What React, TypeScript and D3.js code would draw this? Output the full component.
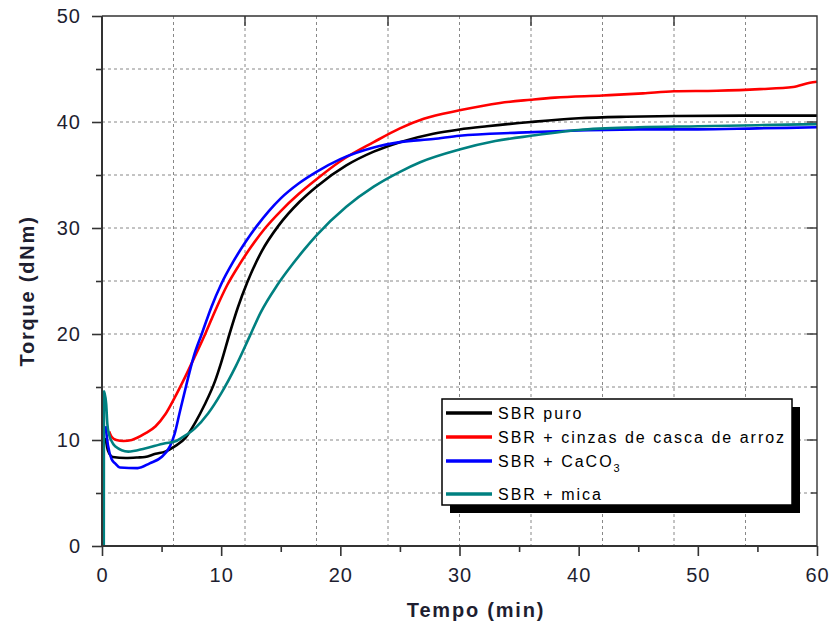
import React, { useEffect, useRef } from 'react';
import * as d3 from 'd3';

// torque curves: [tempo (min), torque (dNm)]
const sbrPuro: [number, number][] = [
  [0.3, 10.2], [0.5, 9.0], [0.9, 8.4], [2, 8.3], [3, 8.35], [3.6, 8.4], [4.5, 8.7],
  [5.3, 8.9], [6.1, 9.4], [7, 10.2], [7.8, 11.6], [8.6, 13.3], [9.5, 15.6], [10, 17.3],
  [10.7, 20], [11.4, 22.5], [12.2, 24.9], [13.4, 27.8], [14.8, 30.2], [16.6, 32.5],
  [18, 33.9], [20.5, 35.9], [22.8, 37.2], [25, 38.1], [27.8, 38.9], [30, 39.3],
  [32.3, 39.6], [36, 40], [40, 40.35], [44, 40.5], [48, 40.57], [54, 40.6], [60, 40.6],
];

const sbrCinzas: [number, number][] = [
  [0.6, 10.8], [0.8, 10.3], [1.2, 10], [1.8, 9.9], [2.5, 10], [3.6, 10.6], [4.5, 11.3],
  [5.3, 12.4], [6.1, 14], [7, 16], [7.8, 17.9], [8.7, 20.1], [9.5, 22.2], [10.5, 24.6],
  [11.5, 26.5], [12.5, 28.2], [13.7, 30], [15, 31.6], [16.5, 33.2], [18, 34.6],
  [20, 36.3], [22.8, 38.1], [25, 39.4], [27, 40.3], [30, 41.1], [33.4, 41.8], [36, 42.1],
  [38, 42.3], [42, 42.5], [45.4, 42.7], [48, 42.9], [51.6, 42.95], [55.2, 43.1],
  [58, 43.3], [59.4, 43.7], [60, 43.8],
];

const sbrCaco3: [number, number][] = [
  [0.3, 11.3], [0.5, 9.5], [0.8, 8.2], [1.1, 7.8], [1.5, 7.4], [3, 7.35], [4, 7.8],
  [5, 8.4], [5.7, 9.4], [6.1, 10.6], [6.5, 12.5], [7.1, 15.3], [7.7, 17.9], [8.4, 20.1],
  [9.2, 22.6], [10, 24.7], [11, 26.8], [12, 28.6], [13, 30.2], [14, 31.6], [15, 32.8],
  [16.5, 34.2], [18, 35.3], [20, 36.5], [22.8, 37.6], [25, 38.1], [27.8, 38.4],
  [30, 38.7], [35, 39], [40, 39.2], [45, 39.3], [50, 39.3], [55, 39.4], [60, 39.5],
];

const sbrMica: [number, number][] = [
  [0.15, 0], [0.17, 14.6], [0.35, 13.4], [0.45, 11.5], [0.6, 10.5], [0.8, 9.9],
  [1.1, 9.4], [2.2, 8.9], [3.6, 9.2], [5.3, 9.7], [6.1, 9.85], [6.8, 10.3], [7.8, 11.1],
  [8.9, 12.5], [10, 14.4], [11.2, 16.9], [12.4, 19.8], [13.3, 22], [14.7, 24.6],
  [16, 26.6], [17, 28], [18, 29.3], [20.5, 32], [22.8, 33.9], [25, 35.3], [26.7, 36.2],
  [30, 37.4], [33, 38.2], [36, 38.7], [40, 39.25], [45, 39.5], [50, 39.6], [55, 39.7],
  [60, 39.8],
];

const seriesNames = ['SBR puro', 'SBR + cinzas de casca de arroz', 'SBR + CaCO', 'SBR + mica'];
const seriesColors = ['#000000', '#ff0000', '#0000ff', '#008080'];
const seriesData = [sbrPuro, sbrCinzas, sbrCaco3, sbrMica];

const xTicks = [0, 10, 20, 30, 40, 50, 60];
const yTicks = [0, 10, 20, 30, 40, 50];

const App = () => {
  const svgRef = useRef<SVGSVGElement>(null);

  useEffect(() => {
    const svg = d3.select(svgRef.current);
    svg.selectAll('*').remove();

    const left = 102, right = 817, top = 16, bottom = 546;
    const x = d3.scaleLinear().domain([0, 60]).range([left, right]);
    const y = d3.scaleLinear().domain([0, 50]).range([bottom, top]);
    const font = '"Liberation Sans", Arial, sans-serif';
    const axisColor = '#333';

    // grid: verticals every 6 min, horizontals every 5 dNm
    const grid = svg.append('g').attr('stroke', '#888').attr('stroke-width', 1)
      .attr('stroke-dasharray', '3,3');
    grid.selectAll('line.v')
      .data(d3.range(6, 60, 6))
      .join('line')
        .attr('x1', d => x(d)).attr('x2', d => x(d))
        .attr('y1', top).attr('y2', bottom);
    grid.selectAll('line.h')
      .data(d3.range(5, 50, 5))
      .join('line')
        .attr('x1', left).attr('x2', right)
        .attr('y1', d => y(d)).attr('y2', d => y(d));

    // curves
    const line = d3.line<[number, number]>()
      .x(d => x(d[0]))
      .y(d => y(d[1]))
      .curve(d3.curveMonotoneX);

    svg.append('g')
      .selectAll('path')
      .data(seriesData)
      .join('path')
        .attr('fill', 'none')
        .attr('stroke', (d, i) => seriesColors[i])
        .attr('stroke-width', 2.6)
        .attr('stroke-linejoin', 'round')
        .attr('d', d => line(d));

    // bottom axis (major 10, minor 5)
    const xMinor = svg.append('g').attr('transform', `translate(0,${bottom})`)
      .call(d3.axisBottom(x).tickValues(d3.range(5, 60, 10)).tickSize(6).tickFormat(() => ''));
    xMinor.select('.domain').remove();
    const xMajor = svg.append('g').attr('transform', `translate(0,${bottom})`)
      .call(d3.axisBottom(x).tickValues(xTicks).tickSize(10).tickPadding(12));
    xMajor.select('.domain').remove();

    // left axis
    const yMinor = svg.append('g').attr('transform', `translate(${left},0)`)
      .call(d3.axisLeft(y).tickValues(d3.range(5, 50, 10)).tickSize(6).tickFormat(() => ''));
    yMinor.select('.domain').remove();
    const yMajor = svg.append('g').attr('transform', `translate(${left},0)`)
      .call(d3.axisLeft(y).tickValues(yTicks).tickSize(10).tickPadding(11));
    yMajor.select('.domain').remove();

    svg.selectAll('.tick line').attr('stroke', axisColor).attr('stroke-width', 1.6);
    svg.selectAll('.tick text')
      .attr('font-family', font)
      .attr('font-size', 20)
      .attr('letter-spacing', 1)
      .attr('fill', '#1e1e30');

    // top ticks (every 12 min) and right ticks, pointing inward
    svg.append('g')
      .selectAll('line')
      .data(d3.range(12, 60, 12))
      .join('line')
        .attr('x1', d => x(d)).attr('x2', d => x(d))
        .attr('y1', top).attr('y2', top + 10)
        .attr('stroke', axisColor).attr('stroke-width', 1.4);
    svg.append('g')
      .selectAll('line')
      .data(d3.range(5, 50, 5))
      .join('line')
        .attr('x1', right).attr('x2', d => right - (d % 10 === 0 ? 10 : 6))
        .attr('y1', d => y(d)).attr('y2', d => y(d))
        .attr('stroke', axisColor).attr('stroke-width', 1.4);

    // frame
    svg.append('path')
      .attr('d', `M${left},${top}H${right}V${bottom}`)
      .attr('fill', 'none').attr('stroke', axisColor).attr('stroke-width', 1.4);
    svg.append('path')
      .attr('d', `M${left},${top}V${bottom}H${right}`)
      .attr('fill', 'none').attr('stroke', axisColor).attr('stroke-width', 2);

    // axis titles
    svg.append('text')
      .attr('x', 476).attr('y', 617)
      .attr('text-anchor', 'middle')
      .attr('font-family', font).attr('font-size', 20).attr('font-weight', 'bold')
      .attr('letter-spacing', 1.8).attr('fill', '#1e1e30')
      .text('Tempo (min)');
    svg.append('text')
      .attr('transform', 'translate(34,291) rotate(-90)')
      .attr('text-anchor', 'middle')
      .attr('font-family', font).attr('font-size', 20).attr('font-weight', 'bold')
      .attr('letter-spacing', 1.8).attr('fill', '#1e1e30')
      .text('Torque (dNm)');

    // legend with drop shadow
    const lg = svg.append('g');
    lg.append('rect').attr('x', 450).attr('y', 407).attr('width', 350).attr('height', 106).attr('fill', '#000');
    lg.append('rect').attr('x', 442).attr('y', 399).attr('width', 350).attr('height', 106)
      .attr('fill', '#fff').attr('stroke', '#000').attr('stroke-width', 1.5);
    const rows = [413, 437, 461, 494];
    seriesNames.forEach((name, i) => {
      lg.append('line')
        .attr('x1', 446).attr('x2', 492)
        .attr('y1', rows[i]).attr('y2', rows[i])
        .attr('stroke', seriesColors[i]).attr('stroke-width', 3.5);
      const t = lg.append('text')
        .attr('x', 498).attr('y', rows[i] + 5.5)
        .attr('font-family', font).attr('font-size', 16)
        .attr('letter-spacing', 2).attr('fill', '#000')
        .text(name);
      if (i === 2) {
        t.append('tspan').attr('dy', 5).attr('font-size', 11).text('3');
      }
    });
  }, []);

  return (
    <svg
      ref={svgRef}
      width={830}
      height={624}
      style={{ position: 'absolute', left: 0, top: 0, background: '#fff' }}
    />
  );
};

export default App;
